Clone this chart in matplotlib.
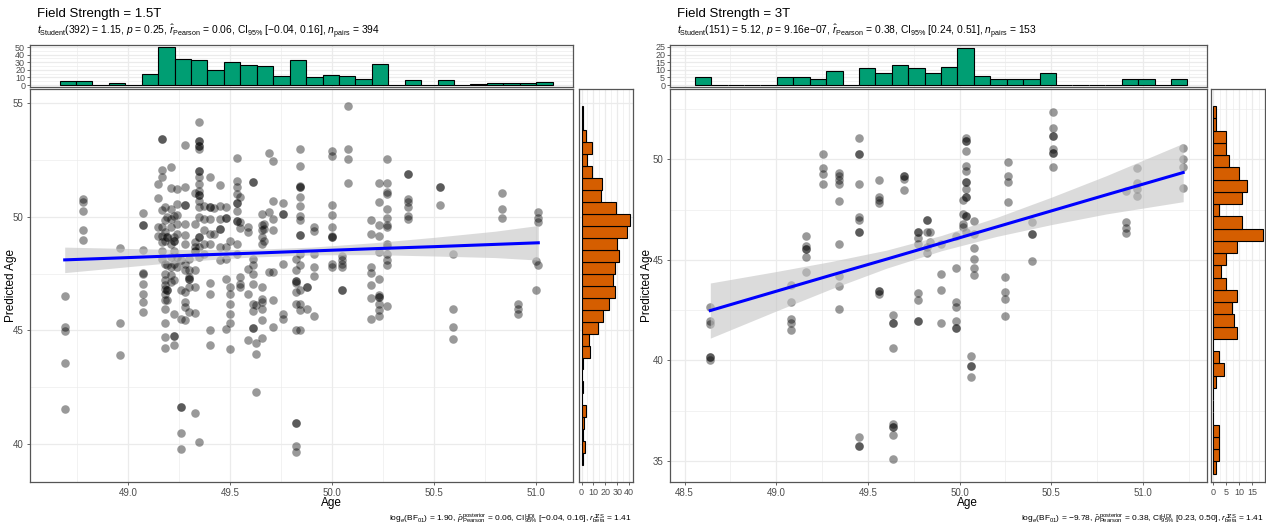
import numpy as np
import matplotlib.pyplot as plt
from matplotlib.ticker import MultipleLocator, FixedLocator

plt.rcParams['font.family'] = ['Liberation Sans', 'DejaVu Sans']
plt.rcParams['mathtext.fontset'] = 'custom'
plt.rcParams['mathtext.rm'] = 'Liberation Sans'
plt.rcParams['mathtext.it'] = 'Liberation Sans:italic'
plt.rcParams['mathtext.bf'] = 'Liberation Sans:bold'

# ---- 1.5T : scatter columns (age, predicted ages) ----
ages_15 = [48.69, 48.78, 48.96, 49.075, 49.145, 49.165, 49.18, 49.19, 49.21, 49.225,
           49.24, 49.26, 49.28, 49.30, 49.33, 49.35, 49.37, 49.40, 49.42, 49.45,
           49.48, 49.50, 49.535, 49.55, 49.59, 49.61, 49.626, 49.657, 49.667, 49.69,
           49.71, 49.76, 49.825, 49.845, 49.877, 49.91, 50.0, 50.05, 50.08, 50.19,
           50.23, 50.27, 50.37, 50.53, 50.59, 50.83, 50.91, 51.0, 51.01]
preds_15 = [
    [46.5, 45.16, 44.98, 43.59, 41.57],
    [50.77, 50.66, 50.23, 49.40, 48.96],
    [48.63, 45.31, 43.94],
    [50.14, 49.65, 49.65, 48.54, 47.52, 47.46, 47.03, 46.59, 46.23, 45.83],
    [51.43, 50.82, 49.53, 49.15],
    [53.40, 53.40, 52.06, 51.72, 50.31, 49.53, 49.14, 48.88, 48.51, 48.15],
    [50.41, 49.83, 49.31, 48.92, 47.93, 47.49, 47.2, 46.98, 46.81, 46.62, 46.33, 45.96, 45.35, 44.72, 44.21],
    [49.97, 49.1, 49.1, 47.86, 46.76, 46.76, 46.36],
    [52.19, 51.25, 50.34, 49.9, 49.53, 48.8, 48.22, 47.78, 47.42, 47.13],
    [50.04, 49.1, 48.95, 48.95, 48.51, 47.93, 47.2, 45.71, 44.75, 44.75, 44.36],
    [51.21, 50.55, 50.09, 49.68, 49.24, 48.22, 47.78],
    [48.08, 46.76, 45.52, 41.66, 41.66, 40.5, 39.8],
    [53.13, 51.28, 50.52, 50.52, 49.68, 49.21, 48.78, 47.93, 47.64, 46.69, 46.25, 46.03, 45.45],
    [48.15, 47.64, 47.35, 47.27, 47.27, 46.91, 45.82],
    [51.02, 49.68, 48.88, 48.66, 48.51, 48.51, 47.64, 46.91, 45.77, 41.37],
    [54.13, 53.32, 53.32, 53.1, 53.1, 52.96, 52.01, 52.01, 51.75, 51.43, 51.14, 50.95, 50.95,
     50.7, 50.41, 49.97, 49.1, 49.1, 48.66, 48.22, 40.09],
    [50.48, 49.9, 49.39, 48.8, 48.37],
    [51.75, 50.41, 50.41, 49.9, 49.24, 48.8, 47.08, 46.62, 45.04, 44.36],
    [50.38, 49.24],
    [51.37, 50.48, 49.9, 49.46, 49.46, 48.66, 48.08],
    [50.41, 49.94, 49.94, 48.66, 48.15, 47.27, 45.08],
    [48.95, 46.91, 46.62, 46.18, 45.71, 45.35, 44.17],
    [52.59, 51.57, 51.28, 50.99, 50.58, 50.58, 50.26, 49.8, 49.8, 48.8, 48.37],
    [50.85, 49.75, 49.5, 47.35, 47.06, 46.91],
    [49.53, 49.31, 47.71, 46.62, 44.58],
    [51.5, 51.5, 48.15, 47.86, 47.49, 47.03, 46.18, 45.86, 45.13, 45.13],
    [46.11, 44.43, 43.99, 42.32],
    [50.12, 49.61, 49.39, 49.1, 48.8, 46.91, 46.4, 46.25, 45.96, 45.45, 44.69],
    [49.68, 49.46, 48.95],
    [52.81, 50.19, 47.56],
    [52.45, 50.7, 49.9, 49.39, 47.56, 46.33, 45.16],
    [50.6, 50.12, 50.12, 47.93, 45.74, 45.52],
    [48.15, 47.64, 47.17, 47.17, 47.08, 46.69, 46.18, 45.01, 40.93, 40.93, 39.91, 39.65],
    [52.96, 52.23, 51.36, 51.28, 51.28, 50.85, 50.48, 50.04, 49.83, 49.17, 49.17, 48.37,
     47.86, 46.76, 46.18, 45.89, 45.01],
    [46.91, 46.91, 45.96],
    [49.53, 49.35, 48.37, 47.78, 47.38, 45.64],
    [52.89, 52.64, 50.51, 50.06, 49.53, 49.15, 49.1, 49.1, 47.9, 47.78],
    [48.27, 48.08, 47.93, 47.78, 46.76, 46.76],
    [54.87, 52.96, 52.52, 51.47],
    [49.83, 49.24, 47.78, 47.52, 47.01, 46.43, 45.52],
    [51.46, 50.66, 49.64, 49.13, 48.44, 47.27, 46.57, 46.47, 46.47, 46.18, 45.92, 45.63],
    [52.51, 51.46, 51.09, 50.99, 50.34, 49.93, 49.64, 49.53, 48.78, 48.69, 48.37, 48.08, 47.86, 46.08],
    [51.85, 51.85, 50.77, 50.66, 50.41, 50.04, 49.9],
    [51.28, 51.28, 50.52],
    [48.37, 45.96, 45.16, 44.61],
    [51.03, 50.34, 49.93],
    [46.18, 45.96, 45.71],
    [48.05, 46.76],
    [50.19, 49.93, 49.75, 47.86],
]

# ---- 3T : scatter columns ----
ages_3 = [48.64, 49.08, 49.163, 49.254, 49.344, 49.453, 49.56, 49.638, 49.696, 49.774,
          49.82, 49.84, 49.9, 49.978, 50.017, 50.036, 50.06, 50.08, 50.247, 50.263,
          50.393, 50.509, 50.909, 50.966, 51.22]
preds_3 = [
    [42.64, 41.98, 41.82, 40.16, 40.16, 40.03],
    [43.77, 42.89, 42.06, 41.85, 41.52],
    [46.2, 45.7, 45.54, 45.54, 45.16, 44.38],
    [50.25, 49.55, 49.29, 48.76],
    [49.34, 49.17, 48.96, 48.79, 47.93, 45.78, 44.21, 43.72, 42.56],
    [51.07, 50.25, 50.25, 48.76, 47.11, 46.97, 46.36, 46.36, 36.19, 35.73, 35.73],
    [48.97, 48.13, 47.97, 47.8, 43.47, 43.47, 43.3],
    [42.28, 41.85, 41.85, 40.61, 36.86, 36.69, 36.69, 36.28, 35.12],
    [49.17, 49.17, 49.01, 48.48],
    [46.36, 46.36, 46.11, 45.78, 43.34, 43.02, 41.98, 41.98],
    [46.97, 46.97, 46.36, 45.62, 45.32],
    [46.36, 45.9],
    [45.78, 44.3, 43.5, 41.87],
    [46.2, 44.59, 42.89, 42.64, 41.98, 41.62, 41.62],
    [47.97, 47.3, 46.78, 46.64],
    [51.07, 50.91, 50.91, 50.41, 49.67, 49.42, 48.88, 48.88, 48.51, 48.1, 48.1, 47.19, 47.19, 46.36],
    [40.21, 39.73, 39.73, 39.17],
    [46.91, 46.28, 45.59, 45.04, 44.59, 44.26],
    [44.16, 43.39, 43.06, 42.21],
    [49.87, 49.17, 48.88, 47.85],
    [46.89, 46.28, 46.28, 44.96],
    [52.35, 51.57, 51.16, 51.16, 50.5, 50.33, 50.33, 49.62],
    [48.43, 46.89, 46.56, 46.31],
    [49.55, 48.84, 48.51, 48.18],
    [50.58, 50.0, 49.62, 48.59],
]

# ---- fitted line and 95% band ----
fit_x_15 = [48.69, 49.0, 49.3, 49.6, 49.9, 50.2, 50.5, 50.8, 51.01]
fit_y_15 = [48.10, 48.20, 48.30, 48.39, 48.49, 48.59, 48.68, 48.78, 48.85]
ci_lo_15 = [47.54, 47.80, 48.05, 48.22, 48.32, 48.33, 48.27, 48.20, 48.09]
ci_hi_15 = [48.66, 48.60, 48.55, 48.56, 48.66, 48.85, 49.09, 49.36, 49.61]

fit_x_3 = [48.64, 49.0, 49.3, 49.6, 49.9, 50.2, 50.5, 50.8, 51.22]
fit_y_3 = [42.48, 43.44, 44.24, 45.03, 45.83, 46.63, 47.43, 48.23, 49.34]
ci_lo_3 = [41.11, 42.46, 43.56, 44.58, 45.45, 46.16, 46.75, 47.28, 47.89]
ci_hi_3 = [43.85, 44.42, 44.92, 45.48, 46.21, 47.10, 48.11, 49.18, 50.79]

# ---- marginal histogram counts (30 bins) ----
age_counts_15 = [5, 5, 0, 3, 0, 14, 50, 34, 33, 20, 30, 26, 25, 12, 33, 11, 13, 12, 8, 28,
                 0, 7, 0, 7, 0, 1, 3, 3, 3, 4]
pred_counts_15 = [1, 3, 1, 2, 4, 0, 1, 0, 1, 7, 6, 14, 18, 23, 28, 26, 28, 31, 30, 38,
                  41, 29, 16, 17, 9, 5, 9, 4, 1, 1]  # bottom -> top
age_counts_3 = [5, 0, 0, 0, 0, 5, 5, 4, 9, 0, 11, 8, 13, 11, 8, 12, 24, 6, 4, 4,
                4, 8, 0, 0, 0, 0, 4, 4, 0, 4]
pred_counts_3 = [1, 2, 2, 2, 0, 0, 0, 1, 4, 2, 0, 9, 8, 7, 9, 5, 3, 5, 9, 19,
                 11, 2, 11, 13, 10, 6, 5, 5, 1, 1]  # bottom -> top

# bin start / width for the histograms
age_bins_15 = (48.665, 0.0805)
pred_bins_15 = (39.08, 0.526)
age_bins_3 = (48.555, 0.0896)
pred_bins_3 = (34.37, 0.609)

W, H = 1266, 527
fig = plt.figure(figsize=(W / 100, H / 100), dpi=100)

GRID = '#ebebeb'
TICKC = '#4d4d4d'
BORDER = '#555555'


def box(x0, y0, x1, y1):
    return [x0 / W, 1 - y1 / H, (x1 - x0) / W, (y1 - y0) / H]


def style(ax):
    for s in ax.spines.values():
        s.set_color(BORDER)
        s.set_linewidth(0.9)
    ax.grid(True, which='major', color=GRID, lw=0.9, zorder=0)
    ax.grid(True, which='minor', color=GRID, lw=0.45, zorder=0)
    ax.tick_params(which='major', labelsize=7, colors=TICKC, length=2.5, width=0.6, pad=2)
    ax.tick_params(which='minor', length=0)
    ax.set_axisbelow(True)


def panel(px, ylab_off, title, subtitle, caption, ages, preds, fx, fy, lo, hi,
          xc, yc, xb, yb, xlim, ylim, xmaj, ymaj, tlim, tmaj, rlim, rmaj):
    x0, x1, r0, r1 = px
    ax = fig.add_axes(box(x0, 89, x1, 482))
    axt = fig.add_axes(box(x0, 45, x1, 87), sharex=ax)
    axr = fig.add_axes(box(r0, 89, r1, 482), sharey=ax)

    xs = np.concatenate([[a] * len(p) for a, p in zip(ages, preds)])
    ys = np.concatenate(preds)
    ax.scatter(xs, ys, s=38, color='black', alpha=0.4, linewidths=0, zorder=2)
    ax.fill_between(fx, lo, hi, color='#c4c4c4', alpha=0.6, lw=0, zorder=3)
    ax.plot(fx, fy, color='#0000ff', lw=2.2, zorder=4)
    ax.set_xlim(*xlim)
    ax.set_ylim(*ylim)
    ax.xaxis.set_major_locator(FixedLocator(xmaj))
    ax.xaxis.set_minor_locator(MultipleLocator(0.25))
    ax.yaxis.set_major_locator(FixedLocator(ymaj))
    ax.yaxis.set_minor_locator(MultipleLocator(2.5))
    ax.set_xticklabels([f'{v:.1f}' for v in xmaj])
    style(ax)
    ax.set_ylabel('Predicted Age', fontsize=8.5)
    ax.yaxis.set_label_coords(-ylab_off / (x1 - x0), 0.5)

    st, sw = xb
    edges = st + sw * np.arange(len(xc))
    axt.bar(edges, xc, width=sw, align='edge', color='#009E73', edgecolor='black', lw=0.8, zorder=2)
    axt.set_ylim(*tlim)
    axt.yaxis.set_major_locator(FixedLocator(tmaj))
    axt.yaxis.set_minor_locator(MultipleLocator((tmaj[1] - tmaj[0]) / 2))
    style(axt)
    axt.tick_params(axis='x', which='both', labelbottom=False, length=0)
    axt.tick_params(axis='y', labelsize=6.5, pad=1)

    st, sw = yb
    edges = st + sw * np.arange(len(yc))
    axr.barh(edges, yc, height=sw, align='edge', color='#D55E00', edgecolor='black', lw=0.8, zorder=2)
    axr.set_xlim(*rlim)
    axr.xaxis.set_major_locator(FixedLocator(rmaj))
    axr.xaxis.set_minor_locator(MultipleLocator((rmaj[1] - rmaj[0]) / 2))
    style(axr)
    axr.tick_params(axis='y', which='both', labelleft=False, length=0)
    axr.tick_params(axis='x', labelsize=6.5, pad=2)

    fig.text((x0 + (r1 - x0) / 2) / W, 1 - 503 / H, 'Age', fontsize=8.5, ha='center', va='center')
    fig.text((x0 + 7) / W, 1 - 14 / H, title, fontsize=9.5, ha='left', va='center')
    fig.text((x0 + 7) / W, 1 - 32 / H, subtitle, fontsize=7.4, ha='left', va='center')
    fig.text((r1 - 1) / W, 1 - 519 / H, caption, fontsize=6, ha='right', va='center')


sub_15 = (r'$t_{\mathrm{Student}}$(392) = 1.15, $p$ = 0.25, $\hat{r}_{\mathrm{Pearson}}$ = 0.06, '
          r'CI$_{95\%}$ [−0.04, 0.16], $n_{\mathrm{pairs}}$ = 394')
cap_15 = (r'log$_{e}$(BF$_{01}$) = 1.90, $\hat{\rho}^{\mathrm{posterior}}_{\mathrm{Pearson}}$ = 0.06, '
          r'CI$^{\mathrm{HDI}}_{95\%}$ [−0.04, 0.16], $r^{\mathrm{JZS}}_{\mathrm{beta}}$ = 1.41')
sub_3 = (r'$t_{\mathrm{Student}}$(151) = 5.12, $p$ = 9.16e−07, $\hat{r}_{\mathrm{Pearson}}$ = 0.38, '
         r'CI$_{95\%}$ [0.24, 0.51], $n_{\mathrm{pairs}}$ = 153')
cap_3 = (r'log$_{e}$(BF$_{01}$) = −9.78, $\hat{\rho}^{\mathrm{posterior}}_{\mathrm{Pearson}}$ = 0.38, '
         r'CI$^{\mathrm{HDI}}_{95\%}$ [0.23, 0.50], $r^{\mathrm{JZS}}_{\mathrm{beta}}$ = 1.41')

panel((30, 573, 579, 633), 13, 'Field Strength = 1.5T', sub_15, cap_15,
      ages_15, preds_15, fit_x_15, fit_y_15, ci_lo_15, ci_hi_15,
      age_counts_15, pred_counts_15, age_bins_15, pred_bins_15,
      (48.52, 51.18), (38.35, 55.6), [49.0, 49.5, 50.0, 50.5, 51.0], [40, 45, 50, 55],
      (-2.6, 52.8), [0, 10, 20, 30, 40, 50], (-2.1, 43.1), [0, 10, 20, 30, 40])

panel((670, 1207, 1211, 1265), 17, 'Field Strength = 3T', sub_3, cap_3,
      ages_3, preds_3, fit_x_3, fit_y_3, ci_lo_3, ci_hi_3,
      age_counts_3, pred_counts_3, age_bins_3, pred_bins_3,
      (48.42, 51.35), (33.96, 53.49), [48.5, 49.0, 49.5, 50.0, 50.5, 51.0], [35, 40, 45, 50],
      (-1.2, 26.2), [0, 5, 10, 15, 20, 25], (-0.95, 19.95), [0, 5, 10, 15])

fig.savefig('out.png', dpi=100)
